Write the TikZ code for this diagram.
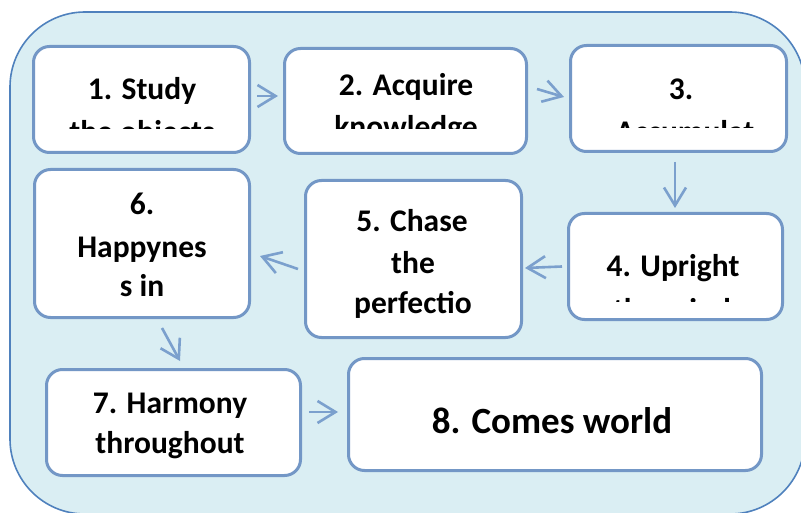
\documentclass[tikz,border=0pt]{standalone}
\usepackage{fontspec}
\setmainfont{Carlito}
\usetikzlibrary{arrows.meta}
\definecolor{bgfill}{HTML}{DAEEF3}
\definecolor{bgline}{HTML}{4F81BD}
\definecolor{boxc}{HTML}{7397C6}
\definecolor{arrc}{HTML}{7BA0CD}
\tikzset{
  box/.style={draw=boxc, line width=3pt, fill=white, rounded corners=16pt, inner sep=0pt},
  lbl/.style={anchor=base, inner sep=0pt, font=\bfseries\fontsize{31.5}{38}\selectfont},
  biglbl/.style={anchor=base, inner sep=0pt, font=\bfseries\fontsize{37}{44}\selectfont},
  arr/.style={draw=arrc, line width=2.6pt, -{Straight Barb[length=18pt,width=22pt]}}
}
\begin{document}
\begin{tikzpicture}[x=1pt,y=-1pt]
\useasboundingbox (0,0) rectangle (801,513);
\clip (0,0) rectangle (801,513);
\draw[fill=bgfill, draw=bgline, line width=1.6pt, rounded corners=75pt] (10,12) rectangle (805,514);

\node[box, minimum width=216pt, minimum height=106pt] (b1) at (141.5,99.5) {};
\node[box, minimum width=242pt, minimum height=105pt] (b2) at (405.5,101) {};
\node[box, minimum width=216pt, minimum height=106pt] (b3) at (678.5,98.5) {};
\node[box, minimum width=214pt, minimum height=106pt] (b4) at (675.5,266.5) {};
\node[box, minimum width=216pt, minimum height=157pt] (b5) at (413.5,259) {};
\node[box, minimum width=215pt, minimum height=148pt] (b6) at (142,243.5) {};
\node[box, minimum width=254pt, minimum height=106pt] (b7) at (173.5,422.5) {};
\node[box, minimum width=413pt, minimum height=112pt] (b8) at (555,414.5) {};

% texts
\node[lbl] (t1a) at (142,100) {1. Study};
\begin{scope}\clip (34,47) rectangle (249,128.5);
\node[lbl] (t1b) at (142,143) {the objects};
\end{scope}
\node[lbl] (t2a) at (406,96) {2. Acquire};
\begin{scope}\clip (285,49) rectangle (526,128.5);
\node[lbl] (t2b) at (406,138) {knowledge};
\end{scope}
\node[lbl] (t3a) at (681,100) {3.};
\begin{scope}\clip (571,46) rectangle (786,127.5);
\node[lbl] (t3b) at (685,143) {Accumulat};
\end{scope}
\node[lbl] (t4a) at (673,277) {4. Upright};
\begin{scope}\clip (569,214) rectangle (782,302);
\node[lbl] (t4b) at (672,320) {the mind};
\end{scope}
\node[lbl] (t5a) at (412,232) {5. Chase};
\node[lbl] (t5b) at (413,273) {the};
\node[lbl] (t5c) at (413,313) {perfectio};
\node[lbl] (t6a) at (142,215) {6.};
\node[lbl] (t6b) at (142,258) {Happynes};
\node[lbl] (t6c) at (142,297) {s in};
\node[lbl] (t7a) at (170,413) {7. Harmony};
\node[lbl] (t7b) at (170,453) {throughout};
\node[biglbl] (t8a) at (552,433) {8. Comes world};

% arrows
\draw[arr] ([xshift=6pt,yshift=3.5pt]b1.east) -- ([xshift=-5pt,yshift=5pt]b2.west);
\draw[arr] ([xshift=9pt,yshift=12pt]b2.east) -- ([xshift=-5pt,yshift=1.5pt]b3.west);
\draw[arr] ([xshift=-3.5pt,yshift=-9pt]b3.south) -- ([xshift=-0.5pt,yshift=4pt]b4.north);
\draw[arr] ([xshift=-5pt]b4.west) -- ([xshift=2pt,yshift=-9pt]b5.east);
\draw[arr] ([xshift=-6pt,yshift=-10pt]b5.west) -- ([xshift=9pt,yshift=-12.5pt]b6.east);
\draw[arr] ([xshift=20pt,yshift=-9pt]b6.south) -- ([xshift=6.5pt,yshift=7pt]b7.north);
\draw[arr] ([xshift=7pt,yshift=10.5pt]b7.east) -- ([xshift=-9pt,yshift=2.5pt]b8.west);
\end{tikzpicture}
\end{document}
